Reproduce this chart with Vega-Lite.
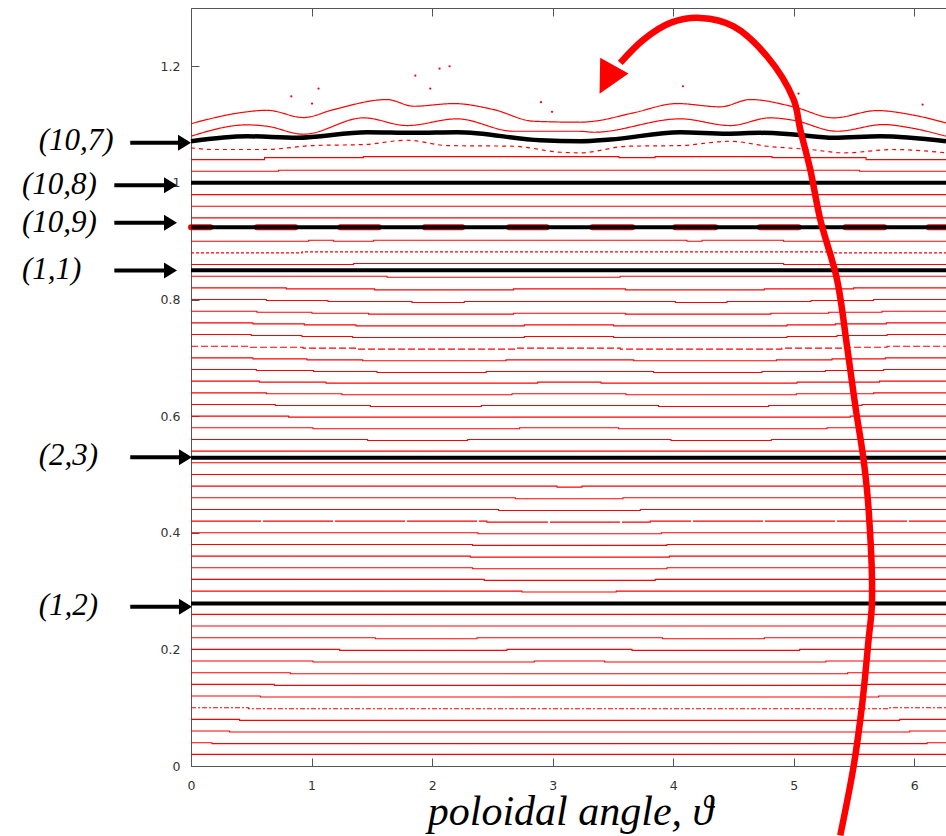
{
"$schema": "https://vega.github.io/schema/vega-lite/v6.json",
"width": 755, "height": 758,
"autosize": {"type": "none"},
"padding": {"left": 191, "top": 8, "right": 0, "bottom": 70},
"config": {"view": {"stroke": null}, "axis": {"grid": false, "domainColor": "#555", "tickColor": "#555", "labelColor": "#333", "labelFont": "DejaVu Sans", "labelFontSize": 12.5}},
"resolve": {"axis": {"x": "independent", "y": "independent"}},
"datasets": {
"flat": [
{"L":"02","x":0,"y":0.02,"s":"s"},{"L":"02","x":6.263,"y":0.02,"s":"s"},
{"L":"04","x":0,"y":0.04,"s":"s"},{"L":"04","x":0.174,"y":0.0383,"s":"s"},{"L":"04","x":6.106,"y":0.04,"s":"s"},{"L":"04","x":6.263,"y":0.04,"s":"s"},
{"L":"06","x":0,"y":0.06,"s":"s"},{"L":"06","x":0.32,"y":0.0583,"s":"s"},{"L":"06","x":5.962,"y":0.06,"s":"s"},{"L":"06","x":6.263,"y":0.06,"s":"s"},
{"L":"08","x":0,"y":0.08,"s":"s"},{"L":"08","x":0.403,"y":0.0783,"s":"s"},{"L":"08","x":5.879,"y":0.08,"s":"s"},{"L":"08","x":6.263,"y":0.08,"s":"s"},
{"L":"10","x":0,"y":0.1,"s":"b"},{"L":"10","x":0.478,"y":0.0983,"s":"b"},{"L":"10","x":5.796,"y":0.1,"s":"b"},{"L":"10","x":6.263,"y":0.1,"s":"b"},
{"L":"12","x":0,"y":0.12,"s":"s"},{"L":"12","x":0.575,"y":0.1183,"s":"s"},{"L":"12","x":5.704,"y":0.12,"s":"s"},{"L":"12","x":6.263,"y":0.12,"s":"s"},
{"L":"14","x":0,"y":0.14,"s":"s"},{"L":"14","x":0.691,"y":0.1383,"s":"s"},{"L":"14","x":5.6,"y":0.14,"s":"s"},{"L":"14","x":6.263,"y":0.14,"s":"s"},
{"L":"16","x":0,"y":0.16,"s":"s"},{"L":"16","x":0.824,"y":0.1583,"s":"s"},{"L":"16","x":5.447,"y":0.16,"s":"s"},{"L":"16","x":6.263,"y":0.16,"s":"s"},
{"L":"18","x":0,"y":0.18,"s":"s"},{"L":"18","x":1.012,"y":0.1783,"s":"s"},{"L":"18","x":2.848,"y":0.18,"s":"s"},{"L":"18","x":3.431,"y":0.1783,"s":"s"},{"L":"18","x":5.267,"y":0.18,"s":"s"},{"L":"18","x":6.263,"y":0.18,"s":"s"},
{"L":"20","x":0,"y":0.2,"s":"s"},{"L":"20","x":1.233,"y":0.1983,"s":"s"},{"L":"20","x":2.621,"y":0.2,"s":"s"},{"L":"20","x":3.658,"y":0.1983,"s":"s"},{"L":"20","x":5.049,"y":0.2,"s":"s"},{"L":"20","x":6.263,"y":0.2,"s":"s"},
{"L":"22","x":0,"y":0.22,"s":"s"},{"L":"22","x":1.529,"y":0.2183,"s":"s"},{"L":"22","x":2.372,"y":0.22,"s":"s"},{"L":"22","x":3.912,"y":0.2183,"s":"s"},{"L":"22","x":4.756,"y":0.22,"s":"s"},{"L":"22","x":6.263,"y":0.22,"s":"s"},
{"L":"24","x":0,"y":0.24,"s":"s"},{"L":"24","x":6.263,"y":0.24,"s":"s"},
{"L":"26","x":0,"y":0.26,"s":"s"},{"L":"26","x":6.263,"y":0.26,"s":"s"},
{"L":"30","x":0,"y":0.3,"s":"s"},{"L":"30","x":2.745,"y":0.2983,"s":"s"},{"L":"30","x":3.528,"y":0.3,"s":"s"},{"L":"30","x":6.263,"y":0.3,"s":"s"},
{"L":"32","x":0,"y":0.32,"s":"s"},{"L":"32","x":2.433,"y":0.3183,"s":"s"},{"L":"32","x":3.851,"y":0.32,"s":"s"},{"L":"32","x":6.263,"y":0.32,"s":"s"},
{"L":"34","x":0,"y":0.34,"s":"s"},{"L":"34","x":2.336,"y":0.3383,"s":"s"},{"L":"34","x":3.948,"y":0.34,"s":"s"},{"L":"34","x":6.263,"y":0.34,"s":"s"},
{"L":"36","x":0,"y":0.36,"s":"s"},{"L":"36","x":2.317,"y":0.3583,"s":"s"},{"L":"36","x":3.968,"y":0.36,"s":"s"},{"L":"36","x":6.263,"y":0.36,"s":"s"},
{"L":"38","x":0,"y":0.38,"s":"s"},{"L":"38","x":2.336,"y":0.3783,"s":"s"},{"L":"38","x":3.948,"y":0.38,"s":"s"},{"L":"38","x":6.263,"y":0.38,"s":"s"},
{"L":"40","x":0,"y":0.4,"s":"s"},{"L":"40","x":2.38,"y":0.3983,"s":"s"},{"L":"40","x":3.901,"y":0.4,"s":"s"},{"L":"40","x":6.263,"y":0.4,"s":"s"},
{"L":"42","x":0,"y":0.42,"s":"g"},{"L":"42","x":2.455,"y":0.4183,"s":"g"},{"L":"42","x":3.81,"y":0.42,"s":"g"},{"L":"42","x":6.263,"y":0.42,"s":"g"},
{"L":"44","x":0,"y":0.44,"s":"s"},{"L":"44","x":2.552,"y":0.4383,"s":"s"},{"L":"44","x":3.727,"y":0.44,"s":"s"},{"L":"44","x":6.263,"y":0.44,"s":"s"},
{"L":"46","x":0,"y":0.46,"s":"s"},{"L":"46","x":2.69,"y":0.4583,"s":"s"},{"L":"46","x":3.583,"y":0.46,"s":"s"},{"L":"46","x":6.263,"y":0.46,"s":"s"},
{"L":"48","x":0,"y":0.48,"s":"s"},{"L":"48","x":3.036,"y":0.4783,"s":"s"},{"L":"48","x":3.243,"y":0.48,"s":"s"},{"L":"48","x":6.263,"y":0.48,"s":"s"},
{"L":"50","x":0,"y":0.5,"s":"s"},{"L":"50","x":6.263,"y":0.5,"s":"s"},
{"L":"52","x":0,"y":0.52,"s":"s"},{"L":"52","x":6.263,"y":0.52,"s":"s"},
{"L":"54","x":0,"y":0.54,"s":"s"},{"L":"54","x":6.263,"y":0.54,"s":"s"},
{"L":"56","x":0,"y":0.56,"s":"s"},{"L":"56","x":1.465,"y":0.5583,"s":"s"},{"L":"56","x":2.295,"y":0.56,"s":"s"},{"L":"56","x":3.981,"y":0.5583,"s":"s"},{"L":"56","x":4.814,"y":0.56,"s":"s"},{"L":"56","x":6.263,"y":0.56,"s":"s"},
{"L":"58","x":0,"y":0.58,"s":"s"},{"L":"58","x":1.012,"y":0.5783,"s":"s"},{"L":"58","x":2.726,"y":0.58,"s":"s"},{"L":"58","x":3.547,"y":0.5783,"s":"s"},{"L":"58","x":5.276,"y":0.58,"s":"s"},{"L":"58","x":6.263,"y":0.58,"s":"s"},
{"L":"60","x":0,"y":0.6,"s":"s"},{"L":"60","x":0.81,"y":0.5983,"s":"s"},{"L":"60","x":5.469,"y":0.6,"s":"s"},{"L":"60","x":6.263,"y":0.6,"s":"s"},
{"L":"62","x":0,"y":0.62,"s":"s"},{"L":"62","x":0.699,"y":0.6183,"s":"s"},{"L":"62","x":1.488,"y":0.6166,"s":"s"},{"L":"62","x":2.408,"y":0.6183,"s":"s"},{"L":"62","x":3.879,"y":0.6166,"s":"s"},{"L":"62","x":4.792,"y":0.6183,"s":"s"},{"L":"62","x":5.566,"y":0.62,"s":"s"},{"L":"62","x":6.263,"y":0.62,"s":"s"},
{"L":"64","x":0,"y":0.64,"s":"s"},{"L":"64","x":0.625,"y":0.6383,"s":"s"},{"L":"64","x":1.252,"y":0.6366,"s":"s"},{"L":"64","x":2.663,"y":0.6383,"s":"s"},{"L":"64","x":3.609,"y":0.6366,"s":"s"},{"L":"64","x":5.021,"y":0.6383,"s":"s"},{"L":"64","x":5.663,"y":0.64,"s":"s"},{"L":"64","x":6.263,"y":0.64,"s":"s"},
{"L":"66","x":0,"y":0.66,"s":"s"},{"L":"66","x":0.567,"y":0.6583,"s":"s"},{"L":"66","x":1.12,"y":0.6566,"s":"s"},{"L":"66","x":2.876,"y":0.6583,"s":"s"},{"L":"66","x":3.401,"y":0.6566,"s":"s"},{"L":"66","x":5.027,"y":0.6583,"s":"s"},{"L":"66","x":5.712,"y":0.66,"s":"s"},{"L":"66","x":6.263,"y":0.66,"s":"s"},
{"L":"68","x":0,"y":0.68,"s":"s"},{"L":"68","x":0.542,"y":0.6783,"s":"s"},{"L":"68","x":1.017,"y":0.6766,"s":"s"},{"L":"68","x":1.543,"y":0.6749,"s":"s"},{"L":"68","x":2.449,"y":0.6766,"s":"s"},{"L":"68","x":3.838,"y":0.6749,"s":"s"},{"L":"68","x":4.736,"y":0.6766,"s":"s"},{"L":"68","x":5.262,"y":0.6783,"s":"s"},{"L":"68","x":5.746,"y":0.68,"s":"s"},{"L":"68","x":6.263,"y":0.68,"s":"s"},
{"L":"70","x":0,"y":0.7,"s":"s"},{"L":"70","x":0.514,"y":0.6983,"s":"s"},{"L":"70","x":0.962,"y":0.6966,"s":"s"},{"L":"70","x":1.424,"y":0.6949,"s":"s"},{"L":"70","x":2.613,"y":0.6966,"s":"s"},{"L":"70","x":3.672,"y":0.6949,"s":"s"},{"L":"70","x":4.856,"y":0.6966,"s":"s"},{"L":"70","x":5.317,"y":0.6983,"s":"s"},{"L":"70","x":5.76,"y":0.7,"s":"s"},{"L":"70","x":6.263,"y":0.7,"s":"s"},
{"L":"72","x":0,"y":0.72,"s":"a"},{"L":"72","x":0.492,"y":0.7183,"s":"a"},{"L":"72","x":0.929,"y":0.7166,"s":"a"},{"L":"72","x":1.363,"y":0.7149,"s":"a"},{"L":"72","x":2.704,"y":0.7166,"s":"a"},{"L":"72","x":3.561,"y":0.7149,"s":"a"},{"L":"72","x":4.902,"y":0.7166,"s":"a"},{"L":"72","x":5.414,"y":0.7183,"s":"a"},{"L":"72","x":5.774,"y":0.72,"s":"a"},{"L":"72","x":6.263,"y":0.72,"s":"a"},
{"L":"74","x":0,"y":0.74,"s":"s"},{"L":"74","x":0.5,"y":0.7383,"s":"s"},{"L":"74","x":0.92,"y":0.7366,"s":"s"},{"L":"74","x":1.341,"y":0.7349,"s":"s"},{"L":"74","x":2.765,"y":0.7366,"s":"s"},{"L":"74","x":3.506,"y":0.7349,"s":"s"},{"L":"74","x":4.944,"y":0.7366,"s":"s"},{"L":"74","x":5.359,"y":0.7383,"s":"s"},{"L":"74","x":5.774,"y":0.74,"s":"s"},{"L":"74","x":6.263,"y":0.74,"s":"s"},
{"L":"76","x":0,"y":0.76,"s":"s"},{"L":"76","x":0.514,"y":0.7583,"s":"s"},{"L":"76","x":0.94,"y":0.7566,"s":"s"},{"L":"76","x":1.368,"y":0.7549,"s":"s"},{"L":"76","x":2.765,"y":0.7566,"s":"s"},{"L":"76","x":3.506,"y":0.7549,"s":"s"},{"L":"76","x":4.944,"y":0.7566,"s":"s"},{"L":"76","x":5.345,"y":0.7583,"s":"s"},{"L":"76","x":5.768,"y":0.76,"s":"s"},{"L":"76","x":6.263,"y":0.76,"s":"s"},
{"L":"78","x":0,"y":0.78,"s":"s"},{"L":"78","x":0.547,"y":0.7783,"s":"s"},{"L":"78","x":1.003,"y":0.7766,"s":"s"},{"L":"78","x":1.473,"y":0.7749,"s":"s"},{"L":"78","x":2.676,"y":0.7766,"s":"s"},{"L":"78","x":3.603,"y":0.7749,"s":"s"},{"L":"78","x":4.811,"y":0.7766,"s":"s"},{"L":"78","x":5.29,"y":0.7783,"s":"s"},{"L":"78","x":5.732,"y":0.78,"s":"s"},{"L":"78","x":6.263,"y":0.78,"s":"s"},
{"L":"80","x":0,"y":0.8,"s":"s"},{"L":"80","x":0.625,"y":0.7983,"s":"s"},{"L":"80","x":1.136,"y":0.7966,"s":"s"},{"L":"80","x":1.833,"y":0.7949,"s":"s"},{"L":"80","x":2.267,"y":0.7966,"s":"s"},{"L":"80","x":4.018,"y":0.7949,"s":"s"},{"L":"80","x":4.446,"y":0.7966,"s":"s"},{"L":"80","x":5.143,"y":0.7983,"s":"s"},{"L":"80","x":5.663,"y":0.8,"s":"s"},{"L":"80","x":6.263,"y":0.8,"s":"s"},
{"L":"82","x":0,"y":0.82,"s":"s"},{"L":"82","x":0.791,"y":0.8183,"s":"s"},{"L":"82","x":1.523,"y":0.8166,"s":"s"},{"L":"82","x":2.676,"y":0.8183,"s":"s"},{"L":"82","x":3.603,"y":0.8166,"s":"s"},{"L":"82","x":4.756,"y":0.8183,"s":"s"},{"L":"82","x":5.497,"y":0.82,"s":"s"},{"L":"82","x":6.263,"y":0.82,"s":"s"},
{"L":"84","x":0,"y":0.84,"s":"s"},{"L":"84","x":1.626,"y":0.8383,"s":"s"},{"L":"84","x":3.56,"y":0.84,"s":"s"},{"L":"84","x":6.263,"y":0.84,"s":"s"},
{"L":"86","x":0,"y":0.86,"s":"s"},{"L":"86","x":1.349,"y":0.8617,"s":"s"},{"L":"86","x":4.916,"y":0.86,"s":"s"},{"L":"86","x":6.263,"y":0.86,"s":"s"},
{"L":"88","x":0,"y":0.88,"s":"c"},{"L":"88","x":0.921,"y":0.8817,"s":"c"},{"L":"88","x":5.331,"y":0.88,"s":"c"},{"L":"88","x":6.263,"y":0.88,"s":"c"},
{"L":"90","x":0,"y":0.9,"s":"s"},{"L":"90","x":0.976,"y":0.9017,"s":"s"},{"L":"90","x":1.183,"y":0.9,"s":"s"},{"L":"90","x":1.515,"y":0.9017,"s":"s"},{"L":"90","x":4.114,"y":0.9,"s":"s"},{"L":"90","x":4.239,"y":0.9017,"s":"s"},{"L":"90","x":4.916,"y":0.9,"s":"s"},{"L":"90","x":6.263,"y":0.9,"s":"s"},
{"L":"94","x":0,"y":0.94,"s":"s"},{"L":"94","x":6.263,"y":0.94,"s":"s"},
{"L":"96","x":0,"y":0.96,"s":"s"},{"L":"96","x":6.263,"y":0.96,"s":"s"},
{"L":"98","x":0,"y":0.98,"s":"s"},{"L":"98","x":6.263,"y":0.98,"s":"s"},
{"L":"102","x":0,"y":1.02,"s":"s"},{"L":"102","x":0.727,"y":1.0217,"s":"s"},{"L":"102","x":5.546,"y":1.02,"s":"s"},{"L":"102","x":6.263,"y":1.02,"s":"s"},
{"L":"104","x":0,"y":1.04,"s":"s"},{"L":"104","x":0.61,"y":1.0434,"s":"s"},{"L":"104","x":1.43,"y":1.0451,"s":"s"},{"L":"104","x":3.55,"y":1.0434,"s":"s"},{"L":"104","x":3.85,"y":1.0451,"s":"s"},{"L":"104","x":4.82,"y":1.0434,"s":"s"},{"L":"104","x":5.6,"y":1.04,"s":"s"},{"L":"104","x":6.263,"y":1.04,"s":"s"}
],
"wavy": [
{"L":"w1","s":"s","x":0,"y":1.1015},{"L":"w1","s":"s","x":0.436,"y":1.1212},{"L":"w1","s":"s","x":0.63,"y":1.1246},{"L":"w1","s":"s","x":0.934,"y":1.1121},{"L":"w1","s":"s","x":1.183,"y":1.1258},{"L":"w1","s":"s","x":1.626,"y":1.143},{"L":"w1","s":"s","x":1.847,"y":1.1315},{"L":"w1","s":"s","x":2.178,"y":1.1361},{"L":"w1","s":"s","x":2.51,"y":1.1258},{"L":"w1","s":"s","x":2.842,"y":1.1058},{"L":"w1","s":"s","x":3.229,"y":1.1041},{"L":"w1","s":"s","x":3.34,"y":1.1058},{"L":"w1","s":"s","x":3.671,"y":1.1202},{"L":"w1","s":"s","x":4.032,"y":1.1361},{"L":"w1","s":"s","x":4.391,"y":1.1305},{"L":"w1","s":"s","x":4.64,"y":1.143},{"L":"w1","s":"s","x":4.999,"y":1.1305},{"L":"w1","s":"s","x":5.331,"y":1.1116},{"L":"w1","s":"s","x":5.691,"y":1.1241},{"L":"w1","s":"s","x":5.967,"y":1.1173},{"L":"w1","s":"s","x":6.263,"y":1.103},
{"L":"w2","s":"s","x":0,"y":1.0801},{"L":"w2","s":"s","x":0.465,"y":1.0996},{"L":"w2","s":"s","x":0.63,"y":1.0972},{"L":"w2","s":"s","x":0.934,"y":1.0835},{"L":"w2","s":"s","x":1.432,"y":1.1116},{"L":"w2","s":"s","x":1.792,"y":1.0984},{"L":"w2","s":"s","x":2.207,"y":1.1099},{"L":"w2","s":"s","x":2.676,"y":1.0886},{"L":"w2","s":"s","x":3.229,"y":1.0886},{"L":"w2","s":"s","x":3.34,"y":1.0869},{"L":"w2","s":"s","x":4.059,"y":1.1099},{"L":"w2","s":"s","x":4.474,"y":1.0984},{"L":"w2","s":"s","x":4.805,"y":1.1116},{"L":"w2","s":"s","x":4.996,"y":1.1075},{"L":"w2","s":"s","x":5.359,"y":1.0886},{"L":"w2","s":"s","x":5.745,"y":1.1001},{"L":"w2","s":"s","x":5.967,"y":1.0945},{"L":"w2","s":"s","x":6.263,"y":1.0801},
{"L":"w3","s":"d","x":0,"y":1.0602},{"L":"w3","s":"d","x":0.187,"y":1.0573},{"L":"w3","s":"d","x":0.602,"y":1.0573},{"L":"w3","s":"d","x":1.017,"y":1.0641},{"L":"w3","s":"d","x":1.432,"y":1.0658},{"L":"w3","s":"d","x":1.792,"y":1.0732},{"L":"w3","s":"d","x":2.124,"y":1.0641},{"L":"w3","s":"d","x":2.676,"y":1.0629},{"L":"w3","s":"d","x":3.065,"y":1.0526},{"L":"w3","s":"d","x":3.229,"y":1.0516},{"L":"w3","s":"d","x":3.617,"y":1.0629},{"L":"w3","s":"d","x":4.059,"y":1.0641},{"L":"w3","s":"d","x":4.474,"y":1.0715},{"L":"w3","s":"d","x":4.778,"y":1.0629},{"L":"w3","s":"d","x":5.137,"y":1.0573},{"L":"w3","s":"d","x":5.414,"y":1.0516},{"L":"w3","s":"d","x":5.828,"y":1.0573},{"L":"w3","s":"d","x":6.263,"y":1.0516}
],
"k7": [
{"x":0,"y":1.0715},{"x":0.465,"y":1.0801},{"x":0.879,"y":1.0773},{"x":1.46,"y":1.0869},{"x":1.847,"y":1.0859},{"x":2.207,"y":1.0869},{"x":2.898,"y":1.0732},{"x":3.229,"y":1.0715},{"x":3.478,"y":1.0744},{"x":4.059,"y":1.0869},{"x":4.446,"y":1.0842},{"x":4.722,"y":1.0859},{"x":4.999,"y":1.083},{"x":5.331,"y":1.0773},{"x":5.718,"y":1.0801},{"x":6.263,"y":1.0715}
],
"dots": [
{"x":0.832,"y":1.1486},{"x":1.004,"y":1.1361},{"x":1.058,"y":1.1618},{"x":1.861,"y":1.1841},{"x":1.985,"y":1.1618},{"x":2.062,"y":1.1961},{"x":2.145,"y":1.2001},{"x":2.903,"y":1.1384},{"x":2.995,"y":1.1219},{"x":4.081,"y":1.1658},{"x":5.04,"y":1.1533},{"x":6.069,"y":1.1344}
],
"islands": [
{"x":0,"x2":0.16,"y":0.924},{"x":0.547,"x2":0.865,"y":0.924},{"x":1.239,"x2":1.557,"y":0.924},{"x":1.94,"x2":2.25,"y":0.924},{"x":2.64,"x2":2.95,"y":0.924},{"x":3.33,"x2":3.66,"y":0.924},{"x":4.017,"x2":4.349,"y":0.924},{"x":4.72,"x2":5.04,"y":0.924},{"x":5.43,"x2":5.75,"y":0.924},{"x":6.12,"x2":6.263,"y":0.924}
],
"rational": [
{"name":"(1,2)","y":0.2789},{"name":"(2,3)","y":0.5287},{"name":"(1,1)","y":0.8503},{"name":"(10,9)","y":0.924},{"name":"(10,8)","y":1.0002}
],
"annot": [
{"t":"(10,7)","x":-1.264,"y":1.0573},{"t":"(10,8)","x":-1.402,"y":0.9818},{"t":"(10,9)","x":-1.402,"y":0.9155},{"t":"(1,1)","x":-1.402,"y":0.8356},{"t":"(2,3)","x":-1.264,"y":0.5155},{"t":"(1,2)","x":-1.264,"y":0.2584}
],
"arrows": [
{"x":-0.504,"x2":-0.08,"hx":0,"y":1.0688},{"x":-0.636,"x2":-0.196,"hx":-0.116,"y":0.9961},{"x":-0.636,"x2":-0.196,"hx":-0.116,"y":0.9316},{"x":-0.636,"x2":-0.196,"hx":-0.116,"y":0.8498},{"x":-0.504,"x2":-0.072,"hx":0.008,"y":0.5297},{"x":-0.504,"x2":-0.072,"hx":0.008,"y":0.2733}
],
"curve": [
{"i":1,"x":5.386,"y":-0.119},{"i":2,"x":5.497,"y":0},{"i":3,"x":5.566,"y":0.1029},{"i":4,"x":5.621,"y":0.2172},{"i":5,"x":5.649,"y":0.2809},{"i":6,"x":5.621,"y":0.4404},{"i":7,"x":5.579,"y":0.5258},{"i":8,"x":5.511,"y":0.6172},{"i":9,"x":5.442,"y":0.72},{"i":10,"x":5.359,"y":0.8344},{"i":11,"x":5.22,"y":0.9373},{"i":12,"x":5.137,"y":1.023},{"i":13,"x":5.054,"y":1.0916},{"i":14,"x":4.999,"y":1.143},{"i":15,"x":4.778,"y":1.2172},{"i":16,"x":4.501,"y":1.2686},{"i":17,"x":4.225,"y":1.283},{"i":18,"x":3.976,"y":1.2745},{"i":19,"x":3.754,"y":1.2458},{"i":20,"x":3.561,"y":1.2059}
],
"head": [{"x":3.389,"y":1.1528}]
},
"layer": [
{
"data": {"name": "flat"},
"mark": {"type": "line", "interpolate": "step-after", "color": "#ff0000", "strokeWidth": 1.1},
"encoding": {
"x": {"field": "x", "type": "quantitative", "scale": {"domain": [0, 6.263], "nice": false, "zero": false},
"axis": {"orient": "bottom", "values": [0,1,2,3,4,5,6], "format": "~g", "tickSize": -8, "labelPadding": 21, "labelFontSize": 12.5, "labelFlush": false, "title": "poloidal angle, ϑ", "titleFont": "Liberation Serif", "titleFontStyle": "italic", "titleFontWeight": "normal", "titleFontSize": 42, "titleColor": "#000", "titleBaseline": "alphabetic", "titleAlign": "center", "titleX": 379, "titleY": 58}},
"y": {"field": "y", "type": "quantitative", "scale": {"domain": [0, 1.3], "nice": false, "zero": false},
"axis": {"orient": "left", "values": [0,0.2,0.4,0.6,0.8,1,1.2], "format": "~g", "tickSize": -8, "labelPadding": 19, "labelFontSize": 12.5, "labelFlush": false, "labelOverlap": false, "title": null}},
"detail": {"field": "L", "type": "nominal"},
"strokeDash": {"field": "s", "type": "nominal", "scale": {"domain": ["s","a","b","c","g","d"], "range": [[1,0],[7,3],[5,2,2,2],[3,2],[70,2],[4,4]]}, "legend": null}
}
},
{
"data": {"name": "wavy"},
"mark": {"type": "line", "interpolate": "monotone", "color": "#ff0000", "strokeWidth": 1.2},
"encoding": {
"x": {"field": "x", "type": "quantitative", "axis": null},
"y": {"field": "y", "type": "quantitative", "axis": null},
"detail": {"field": "L", "type": "nominal"},
"strokeDash": {"field": "s", "type": "nominal", "legend": null}
}
},
{
"data": {"name": "dots"},
"mark": {"type": "point", "filled": true, "color": "#ff0000", "size": 5, "opacity": 1},
"encoding": {
"x": {"field": "x", "type": "quantitative", "axis": null},
"y": {"field": "y", "type": "quantitative", "axis": null}
}
},
{
"data": {"name": "islands"},
"mark": {"type": "rule", "color": "#ff0000", "strokeWidth": 6, "strokeCap": "round"},
"encoding": {
"x": {"field": "x", "type": "quantitative", "axis": null},
"x2": {"field": "x2"},
"y": {"field": "y", "type": "quantitative", "axis": null}
}
},
{
"data": {"name": "rational"},
"mark": {"type": "rule", "color": "#000000", "strokeWidth": 4},
"encoding": {
"y": {"field": "y", "type": "quantitative", "axis": null}
}
},
{
"data": {"name": "k7"},
"mark": {"type": "line", "interpolate": "monotone", "color": "#000000", "strokeWidth": 4.5},
"encoding": {
"x": {"field": "x", "type": "quantitative", "axis": {"orient": "top", "values": [0,1,2,3,4,5,6], "labels": false, "tickSize": -8, "title": null}},
"y": {"field": "y", "type": "quantitative", "axis": null}
}
},
{
"data": {"name": "annot"},
"mark": {"type": "text", "font": "Liberation Serif", "fontStyle": "italic", "fontSize": 31, "align": "left", "baseline": "alphabetic", "color": "#000000", "clip": false},
"encoding": {
"x": {"field": "x", "type": "quantitative", "axis": null},
"y": {"field": "y", "type": "quantitative", "axis": null},
"text": {"field": "t"}
}
},
{
"data": {"name": "arrows"},
"mark": {"type": "rule", "color": "#000000", "strokeWidth": 4, "clip": false},
"encoding": {
"x": {"field": "x", "type": "quantitative", "axis": null},
"x2": {"field": "x2"},
"y": {"field": "y", "type": "quantitative", "axis": null}
}
},
{
"data": {"name": "arrows"},
"mark": {"type": "point", "shape": "M0,0L-2,-1.23L-2,1.23Z", "filled": true, "color": "#000000", "size": 169, "opacity": 1, "clip": false},
"encoding": {
"x": {"field": "hx", "type": "quantitative", "axis": null},
"y": {"field": "y", "type": "quantitative", "axis": null}
}
},
{
"data": {"name": "curve"},
"mark": {"type": "line", "interpolate": "catmull-rom", "color": "#ff0000", "strokeWidth": 6.5, "clip": false},
"encoding": {
"x": {"field": "x", "type": "quantitative", "axis": null},
"y": {"field": "y", "type": "quantitative", "axis": null},
"order": {"field": "i", "type": "quantitative"}
}
},
{
"data": {"name": "head"},
"mark": {"type": "point", "shape": "M0,0L0.04,-2.25L1.81,-1.27Z", "filled": true, "color": "#ff0000", "size": 1024, "opacity": 1, "clip": false},
"encoding": {
"x": {"field": "x", "type": "quantitative", "axis": null},
"y": {"field": "y", "type": "quantitative", "axis": null}
}
}
]
}
